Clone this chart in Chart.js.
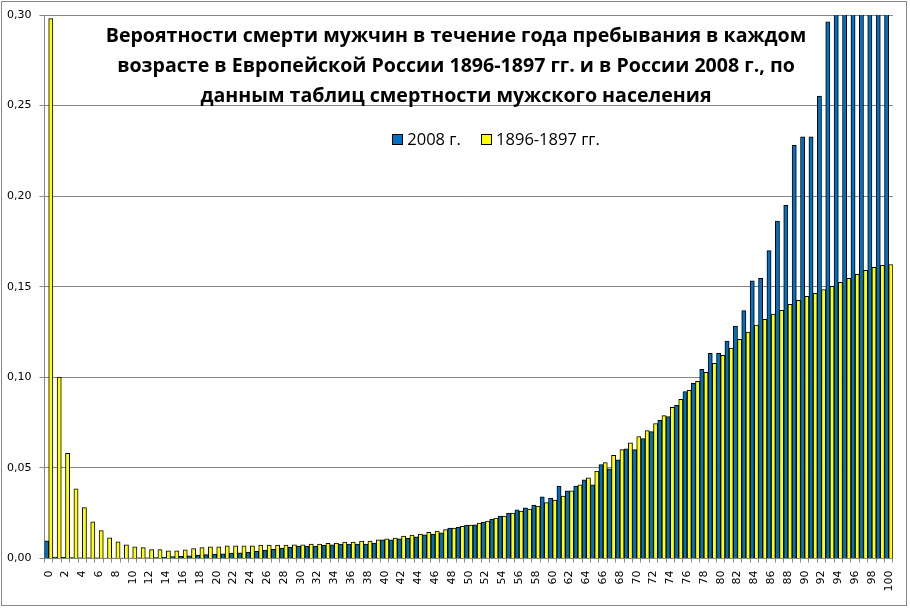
<!DOCTYPE html>
<html lang="ru">
<head>
<meta charset="utf-8">
<title>Вероятности смерти мужчин</title>
<script src="https://cdn.jsdelivr.net/npm/chart.js@4/dist/chart.umd.min.js"></script>
<style>
  html, body { margin: 0; padding: 0; background: #fff; }
  #wrap { position: relative; width: 910px; height: 608px; }
  #frame { position: absolute; left: 1px; top: 1px; width: 906px; height: 605px; border: 1px solid #888; box-sizing: border-box; pointer-events: none; }
  #title { position: absolute; left: 0; width: 912px; top: 20px; text-align: center;
           font: bold 19.6px "Open Sans", sans-serif; line-height: 30px; color: #000; }
  #legend { position: absolute; left: 392px; top: 128px; font: 16.5px "Open Sans", sans-serif; color: #000; white-space: nowrap; line-height: 22px; }
  #legend span.box { display: inline-block; width: 9px; height: 9px; border: 1px solid #000; vertical-align: middle; margin-top: -3px; }
</style>
</head>
<body>
<div id="wrap">
  <canvas id="chart" width="910" height="608"></canvas>
  <div id="title">Вероятности смерти мужчин в течение года пребывания в каждом<br>возрасте в Европейской России 1896-1897 гг. и в России 2008 г., по<br>данным таблиц смертности мужского населения</div>
  <div id="legend"></div>
  <div id="frame"></div>
</div>
<script>
// ages 0..100
const ages = ['0','1','2','3','4','5','6','7','8','9','10','11','12','13','14','15','16','17','18','19',
  '20','21','22','23','24','25','26','27','28','29','30','31','32','33','34','35','36','37','38','39',
  '40','41','42','43','44','45','46','47','48','49','50','51','52','53','54','55','56','57','58','59',
  '60','61','62','63','64','65','66','67','68','69','70','71','72','73','74','75','76','77','78','79',
  '80','81','82','83','84','85','86','87','88','89','90','91','92','93','94','95','96','97','98','99','100'];

const seriesNames = ['2008 г.', '1896-1897 гг.'];
const seriesColors = ['#0070C0', '#FFFF00'];

// 2008
const q2008 = [0.0098,0.0008,0.0006,0.0005,0.0004,0.0004,0.0004,0.0003,0.0003,0.0003,
  0.0003,0.0004,0.0004,0.0005,0.0007,0.0010,0.0012,0.0015,0.0019,0.0021,
  0.0025,0.0026,0.0030,0.0031,0.0036,0.0040,0.0046,0.0051,0.0057,0.0062,
  0.0068,0.0068,0.0069,0.0073,0.0076,0.0079,0.0079,0.0079,0.0079,0.0085,
  0.0103,0.0103,0.0109,0.0113,0.0120,0.0131,0.0135,0.0142,0.0168,0.0172,
  0.0185,0.0186,0.0201,0.0218,0.0234,0.0251,0.0268,0.0279,0.0295,0.0340,
  0.0334,0.0400,0.0373,0.0400,0.0434,0.0406,0.0518,0.0495,0.0545,0.0606,
  0.0601,0.0662,0.0700,0.0762,0.0784,0.0845,0.0922,0.0967,0.1044,0.1133,
  0.1133,0.1200,0.1283,0.1368,0.1533,0.1546,0.1699,0.1862,0.1950,0.2280,
  0.2327,0.2327,0.2552,0.2962,0.312,0.328,0.345,0.362,0.381,0.400,0.420];

// 1896-1897
const q1897 = [0.2980,0.1002,0.0580,0.0385,0.0281,0.0203,0.0154,0.0114,0.0092,0.0076,
  0.0065,0.0060,0.0049,0.0049,0.0043,0.0043,0.0048,0.0055,0.0060,0.0065,
  0.0065,0.0070,0.0070,0.0070,0.0070,0.0074,0.0074,0.0074,0.0074,0.0075,
  0.0075,0.0079,0.0080,0.0084,0.0085,0.0090,0.0090,0.0096,0.0096,0.0103,
  0.0109,0.0113,0.0124,0.0129,0.0135,0.0144,0.0151,0.0159,0.0168,0.0177,
  0.0185,0.0196,0.0207,0.0223,0.0234,0.0251,0.0262,0.0273,0.0290,0.0308,
  0.0323,0.0345,0.0373,0.0406,0.0445,0.0483,0.0529,0.0570,0.0601,0.0638,
  0.0673,0.0706,0.0745,0.0789,0.0834,0.0878,0.0928,0.0978,0.1028,0.1077,
  0.1122,0.1161,0.1210,0.1250,0.1288,0.1320,0.1349,0.1370,0.1403,0.1425,
  0.1447,0.1463,0.1485,0.1502,0.1524,0.1546,0.1568,0.1590,0.1607,0.1618,0.1623];

const yMin = 0, yMax = 0.30, yStep = 0.05;

// legend in html
const legend = document.getElementById('legend');
seriesNames.forEach((name, i) => {
  legend.innerHTML += `<span class="box" style="background:${seriesColors[i]}"></span> <span style="margin-right:${i === 0 ? 20 : 0}px">${name}</span>`;
});

const gray = '#868686';
const tickFont = { family: 'DejaVu Sans', size: 11 };

new Chart(document.getElementById('chart'), {
  type: 'bar',
  data: {
    labels: ages,
    datasets: [
      { label: seriesNames[0], data: q2008, backgroundColor: seriesColors[0] },
      { label: seriesNames[1], data: q1897, backgroundColor: seriesColors[1] }
    ]
  },
  options: {
    responsive: false,
    animation: false,
    layout: { padding: { left: 0, right: 16, top: 15, bottom: 0 } },
    datasets: {
      bar: { categoryPercentage: 1, barPercentage: 1, borderWidth: 1, borderColor: '#000' }
    },
    plugins: {
      legend: { display: false },
      title: { display: false },
      tooltip: { enabled: false }
    },
    scales: {
      x: {
        offset: true,
        border: { color: gray },
        grid: { drawOnChartArea: false, drawTicks: true, tickLength: 4, tickColor: gray, offset: true },
        ticks: {
          autoSkip: false, maxRotation: 90, minRotation: 90, padding: 8,
          color: '#000', font: tickFont,
          callback: (v, i) => i % 2 === 0 ? ages[i] : ''
        },
        afterFit: s => { s.height = 49.5; }
      },
      y: {
        min: yMin, max: yMax,
        border: { color: gray },
        grid: { color: gray, tickColor: gray, tickLength: 5 },
        ticks: {
          stepSize: yStep, padding: 8, color: '#000', font: tickFont,
          callback: v => v.toFixed(2).replace('.', ',')
        },
        afterFit: s => { s.width = 44.5; }
      }
    }
  }
});
</script>
</body>
</html>
